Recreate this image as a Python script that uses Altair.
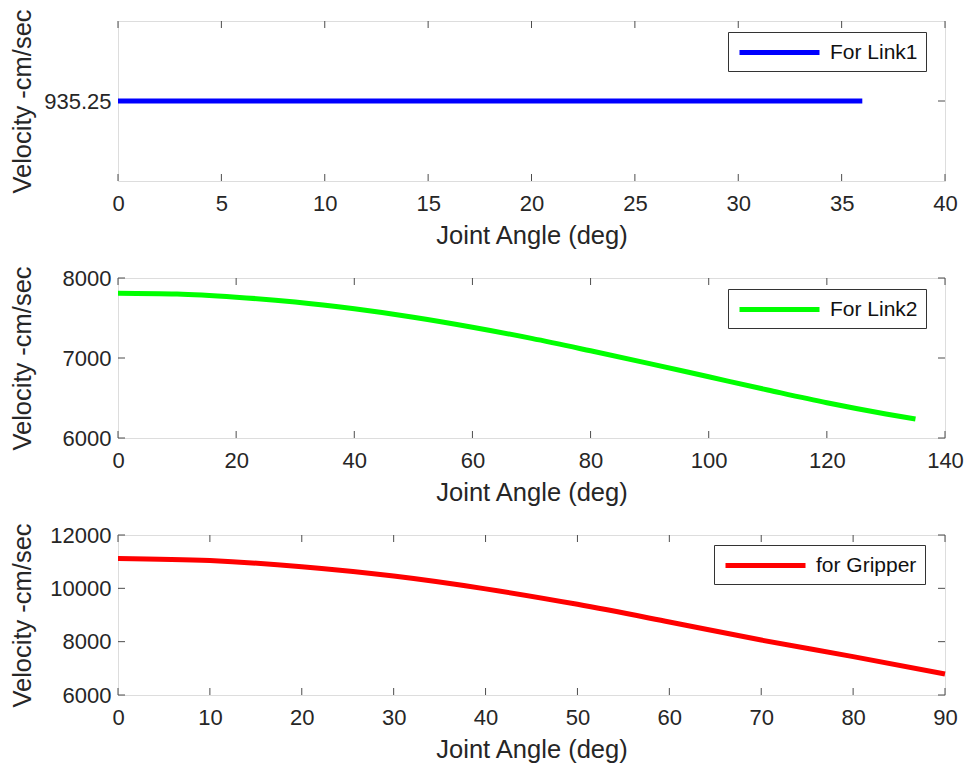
import altair as alt
import pandas as pd

# Panel 1 (Link1)
link1_angle = [0, 36]
link1_vel = [935.25, 935.25]
# Panel 2 (Link2)
link2_angle = [0, 10, 20, 30, 40, 50, 60, 70, 80, 90, 100, 110, 120, 130, 135]
link2_vel = [7810, 7800, 7760, 7700, 7615, 7510, 7385, 7245, 7090, 6930, 6765, 6600, 6440, 6300, 6237]
# Panel 3 (Gripper)
grip_angle = [0, 10, 20, 30, 40, 50, 60, 70, 80, 90]
grip_vel = [11120, 11040, 10810, 10460, 9980, 9400, 8740, 8060, 7440, 6790]

x_ticks = [list(range(0, 41, 5)), list(range(0, 141, 20)), list(range(0, 91, 10))]
y_ticks = [[935.25], [6000, 7000, 8000], [6000, 8000, 10000, 12000]]
x_domains = [[0, 40], [0, 140], [0, 90]]
y_domains = [[935.0, 935.5], [6000, 8000], [6000, 12000]]
y_formats = [".2f", "d", "d"]
labels = ["For Link1", "For Link2", "for Gripper"]
colors = ["#0000FF", "#00FF00", "#FF0000"]
legend_x = [610, 610, 596]
legend_y = [11, 11, 10]

W, H = 827, 160
TICK = 7
AX = "#262626"
FRAME = "#4d4d4d"
FONT = "Liberation Sans"

series = [(link1_angle, link1_vel), (link2_angle, link2_vel), (grip_angle, grip_vel)]

panels = []
for i, (ang, vel) in enumerate(series):
    df = pd.DataFrame({"angle": ang, "vel": vel, "series": labels[i]})
    xs = alt.Scale(domain=x_domains[i], nice=False, zero=False)
    ys = alt.Scale(domain=y_domains[i], nice=False, zero=False)
    line = alt.Chart(df).mark_line(strokeWidth=5, interpolate="monotone").encode(
        x=alt.X("angle:Q", scale=xs,
                axis=alt.Axis(values=x_ticks[i], title="Joint Angle (deg)", grid=False,
                              domain=False, ticks=False, labelPadding=12,
                              labelFontSize=22, titleFontSize=25.5, labelColor=AX, titleColor=AX,
                              titleFontWeight="normal", titleBaseline="alphabetic", titleY=62,
                              labelFont=FONT, titleFont=FONT, labelFlush=False)),
        y=alt.Y("vel:Q", scale=ys,
                axis=alt.Axis(values=y_ticks[i], format=y_formats[i], title="Velocity -cm/sec",
                              grid=False, domain=False, ticks=False, labelPadding=7,
                              labelFontSize=22, titleFontSize=25.5, labelColor=AX, titleColor=AX,
                              titleFontWeight="normal", titleBaseline="alphabetic", titleX=-88,
                              labelFont=FONT, titleFont=FONT, labelFlush=False)),
        color=alt.Color("series:N",
                        scale=alt.Scale(domain=[labels[i]], range=[colors[i]]),
                        legend=alt.Legend(title=None, orient="none", legendX=legend_x[i],
                                          legendY=legend_y[i], symbolType="M-4,0H4",
                                          symbolSize=400, symbolStrokeWidth=5,
                                          symbolOffset=31, symbolFillColor="transparent",
                                          labelFontSize=21, labelFont=FONT, labelColor="#111111",
                                          labelOffset=38, padding=8, strokeColor="#333333",
                                          fillColor="white")),
    )
    xt = pd.DataFrame({"t": x_ticks[i]})
    yt = pd.DataFrame({"t": y_ticks[i]})
    xb = alt.Chart(xt).mark_rule(color=FRAME, strokeWidth=1).encode(
        x=alt.X("t:Q", scale=xs), y=alt.value(H), y2=alt.value(H - TICK))
    xtop = alt.Chart(xt).mark_rule(color=FRAME, strokeWidth=1).encode(
        x=alt.X("t:Q", scale=xs), y=alt.value(0), y2=alt.value(TICK))
    yl = alt.Chart(yt).mark_rule(color=FRAME, strokeWidth=1).encode(
        y=alt.Y("t:Q", scale=ys), x=alt.value(0), x2=alt.value(TICK))
    yr = alt.Chart(yt).mark_rule(color=FRAME, strokeWidth=1).encode(
        y=alt.Y("t:Q", scale=ys), x=alt.value(W - TICK), x2=alt.value(W))
    panel = alt.layer(xb, xtop, yl, yr, line).properties(width=W, height=H)
    panels.append(panel)

chart = alt.vconcat(*panels, spacing=97, bounds="flush").resolve_scale(
    color="independent", x="independent", y="independent"
).resolve_legend(color="independent").properties(
    padding={"left": 1, "top": 0, "right": 5, "bottom": 2}
).configure_view(stroke=FRAME, strokeWidth=1).configure(font=FONT, background="white")

chart.save("out.html", embed_options={"renderer": "svg", "actions": False})
